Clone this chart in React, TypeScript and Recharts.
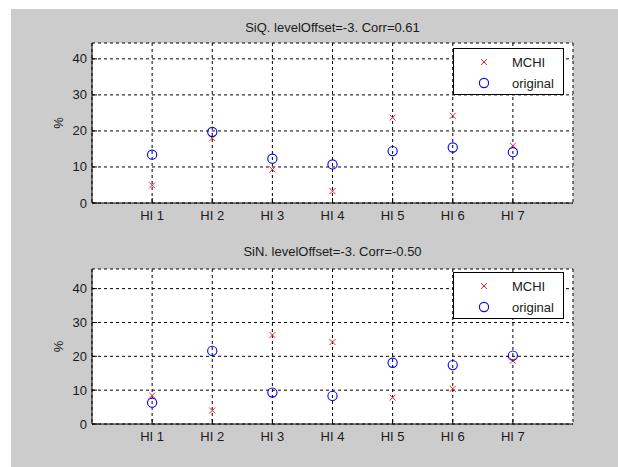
import React from 'react';
import { ComposedChart, Scatter, XAxis, YAxis, CartesianGrid } from 'recharts';

const categories = ['HI 1', 'HI 2', 'HI 3', 'HI 4', 'HI 5', 'HI 6', 'HI 7'];
const categoryPositions = [1, 2, 3, 4, 5, 6, 7];
const siqMchi = [4.9, 18.0, 9.3, 3.3, 23.7, 24.2, 15.9];
const siqOriginal = [13.4, 19.7, 12.3, 10.7, 14.4, 15.4, 14.1];
const sinMchi = [8.4, 4.0, 26.3, 24.2, 7.8, 10.4, 18.7];
const sinOriginal = [6.3, 21.6, 9.3, 8.3, 18.1, 17.4, 20.2];
const yTicks = [0, 10, 20, 30, 40];
const seriesNames = ['MCHI', 'original'];
const titleTop = 'SiQ. levelOffset=-3. Corr=0.61';
const titleBottom = 'SiN. levelOffset=-3. Corr=-0.50';

const FONT = '"Liberation Sans", Arial, Helvetica, sans-serif';
const TXT = '#1a1a1a';
const FS = 13;

const build = (vals: number[]) => vals.map((v, i) => ({ x: categoryPositions[i], y: v }));

const Cross = (props: any) => {
  const { cx, cy } = props;
  if (cx == null || cy == null) return null;
  return (
    <g>
      <line x1={cx - 3} y1={cy - 3} x2={cx + 3} y2={cy + 3} stroke="#ff2020" strokeWidth={1} />
      <line x1={cx - 3} y1={cy + 3} x2={cx + 3} y2={cy - 3} stroke="#ff2020" strokeWidth={1} />
    </g>
  );
};

const Circle = (props: any) => {
  const { cx, cy } = props;
  if (cx == null || cy == null) return null;
  return <circle cx={cx} cy={cy} r={4.6} fill="none" stroke="#0000ff" strokeWidth={1.1} />;
};

const BottomTick = (props: any) => {
  const { x, y, payload } = props;
  return (
    <g>
      <line x1={x} y1={y} x2={x} y2={y - 5} stroke="#000" />
      <text x={x} y={y + 12} textAnchor="middle" dominantBaseline="central" fontSize={FS} fontFamily={FONT} fill={TXT}>
        {categories[payload.value - 1]}
      </text>
    </g>
  );
};

const TopTick = (props: any) => {
  const { x, y } = props;
  return <line x1={x} y1={y} x2={x} y2={y + 5} stroke="#000" />;
};

const LeftTick = (props: any) => {
  const { x, y, payload } = props;
  return (
    <g>
      <line x1={x} y1={y} x2={x + 5} y2={y} stroke="#000" />
      <text x={x - 5} y={y} textAnchor="end" dominantBaseline="central" fontSize={FS} fontFamily={FONT} fill={TXT}>
        {payload.value}
      </text>
    </g>
  );
};

const RightTick = (props: any) => {
  const { x, y } = props;
  return <line x1={x} y1={y} x2={x - 5} y2={y} stroke="#000" />;
};

const LegendBox = ({ top }: { top: number }) => (
  <div
    style={{
      position: 'absolute',
      left: 453,
      top,
      width: 109,
      height: 45,
      background: '#fff',
      border: '1px solid #000',
      fontFamily: FONT,
      fontSize: FS,
      color: TXT,
    }}
  >
    <svg width={109} height={45} style={{ position: 'absolute', left: 0, top: 0 }}>
      <Cross cx={30} cy={13} />
      <Circle cx={30} cy={34} />
      <text x={58} y={13} dominantBaseline="central" fontSize={FS} fontFamily={FONT} fill={TXT}>
        {seriesNames[0]}
      </text>
      <text x={58} y={34} dominantBaseline="central" fontSize={FS} fontFamily={FONT} fill={TXT}>
        {seriesNames[1]}
      </text>
    </svg>
  </div>
);

const Panel = ({
  mchi,
  original,
  yMax,
  height,
  marginBottom,
}: {
  mchi: number[];
  original: number[];
  yMax: number;
  height: number;
  marginBottom: number;
}) => (
  <ComposedChart width={618} height={height} margin={{ top: 43, right: 45, left: 52, bottom: marginBottom }}>
    <CartesianGrid stroke="#000" strokeDasharray="3 3" fill="#ffffff" fillOpacity={1} />
    <XAxis
      type="number"
      dataKey="x"
      domain={[0, 8]}
      ticks={categoryPositions}
      height={20}
      tickSize={0}
      tickMargin={0}
      axisLine={{ stroke: '#000' }}
      tickLine={false}
      tick={<BottomTick />}
      allowDataOverflow
    />
    <XAxis
      xAxisId="top"
      orientation="top"
      type="number"
      domain={[0, 8]}
      ticks={categoryPositions}
      height={0}
      tickSize={0}
      tickMargin={0}
      axisLine={{ stroke: '#000' }}
      tickLine={false}
      tick={<TopTick />}
      allowDataOverflow
    />
    <YAxis
      type="number"
      dataKey="y"
      domain={[0, yMax]}
      ticks={yTicks}
      width={40}
      tickSize={0}
      tickMargin={0}
      axisLine={{ stroke: '#000' }}
      tickLine={false}
      tick={<LeftTick />}
      allowDataOverflow
      label={{
        content: (p: any) => {
          const vb = p.viewBox;
          const cx = vb.x + 6;
          const cy = vb.y + vb.height / 2;
          return (
            <text
              x={cx}
              y={cy}
              transform={`rotate(-90, ${cx}, ${cy})`}
              textAnchor="middle"
              dominantBaseline="central"
              fontSize={FS}
              fontFamily={FONT}
              fill={TXT}
            >
              %
            </text>
          );
        },
      }}
    />
    <YAxis
      yAxisId="right"
      orientation="right"
      type="number"
      domain={[0, yMax]}
      ticks={yTicks}
      width={0}
      tickSize={0}
      tickMargin={0}
      axisLine={{ stroke: '#000' }}
      tickLine={false}
      tick={<RightTick />}
      allowDataOverflow
    />
    <Scatter name={seriesNames[0]} data={build(mchi)} shape={<Cross />} isAnimationActive={false} />
    <Scatter name={seriesNames[1]} data={build(original)} shape={<Circle />} isAnimationActive={false} />
  </ComposedChart>
);

const titleStyle = (top: number): React.CSSProperties => ({
  position: 'absolute',
  left: 92,
  width: 481,
  top,
  textAlign: 'center',
  fontFamily: FONT,
  fontSize: FS,
  lineHeight: '15px',
  color: TXT,
  whiteSpace: 'nowrap',
});

export default function App() {
  return (
    <div style={{ position: 'absolute', left: 0, top: 0, width: 618, height: 467, background: '#ffffff', overflow: 'hidden' }}>
      <div style={{ position: 'absolute', left: 11, top: 9, width: 607, height: 458, background: '#cccccc' }} />
      <div style={{ position: 'absolute', left: 0, top: 0 }}>
        <Panel mchi={siqMchi} original={siqOriginal} yMax={44.4} height={230} marginBottom={7} />
      </div>
      <div style={{ position: 'absolute', left: 0, top: 226 }}>
        <Panel mchi={sinMchi} original={sinOriginal} yMax={45.8} height={241} marginBottom={23} />
      </div>
      <div style={titleStyle(20)}>{titleTop}</div>
      <div style={titleStyle(244)}>{titleBottom}</div>
      <LegendBox top={48} />
      <LegendBox top={272} />
    </div>
  );
}
